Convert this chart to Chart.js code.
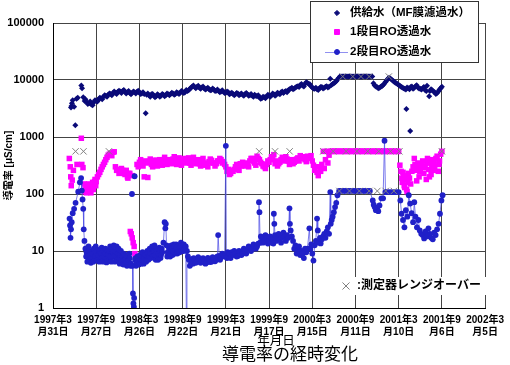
<!DOCTYPE html>
<html lang="ja">
<head>
<meta charset="utf-8">
<title>導電率の経時変化</title>
<script src="https://cdn.jsdelivr.net/npm/chart.js@4.4.1/dist/chart.umd.min.js"></script>
<style>
  html, body { margin: 0; padding: 0; background: #fff; }
</style>
</head>
<body>
<canvas id="chart" width="510" height="365"></canvas>
<script>
// x = days since 1997/3/31, y = conductivity [uS/cm]
const tickDays = [0, 180, 360, 540, 720, 900, 1080, 1260, 1440, 1620, 1800];
const tickLabels = [
    ['1997年3', '月31日'], ['1997年9', '月27日'], ['1998年3', '月26日'], ['1998年9', '月22日'],
    ['1999年3', '月21日'], ['1999年9', '月17日'], ['2000年3', '月15日'], ['2000年9', '月11日'],
    ['2001年3', '月10日'], ['2001年9', '月6日'], ['2002年3', '月5日']
];
const yTicks = [1, 10, 100, 1000, 10000, 100000];

const seriesNames = ['供給水（MF膜濾過水）', '1段目RO透過水', '2段目RO透過水'];

const feedWater = [
    [75,3300],[77,3500],[79,3900],[82,4400],[88,3400],[93,1600],[98,4700],[103,4900],[118,8000],[121,7200],
    [126,5000],[132,4300],[135,4600],[140,4100],[145,3800],[150,3900],[155,4200],[160,3700],[165,3600],[168,4000],
    [175,4400],[180,4300],[185,4200],[190,4600],[195,4900],[200,4800],[205,4600],[210,5100],[215,5400],[220,5300],
    [225,5100],[230,5500],[235,5800],[240,5700],[245,5400],[250,5900],[255,6300],[260,6000],[265,5700],[270,6200],
    [275,6500],[280,6300],[285,5900],[290,6400],[295,6700],[300,6200],[305,5800],[310,6100],[315,6400],[320,5900],
    [325,5600],[330,6000],[335,6300],[340,6100],[345,5800],[350,6200],[355,6500],[360,6000],[365,5700],[370,5800],
    [375,6100],[380,5700],[386,2600],[390,5500],[395,5800],[400,5400],[405,5100],[410,5600],[415,5700],[420,5300],
    [425,5000],[430,5200],[435,5600],[440,5400],[445,5100],[450,5300],[455,5700],[460,5500],[465,5200],[470,5400],
    [475,5800],[480,5600],[485,5400],[490,5700],[495,6000],[500,5800],[505,5500],[510,5700],[515,6100],[520,5900],
    [525,5700],[530,6000],[535,6400],[540,6200],[545,5900],[550,6100],[555,6700],[560,6400],[565,6600],[570,7000],
    [575,7300],[580,7700],[585,8000],[590,7500],[595,7200],[600,7600],[605,7900],[610,7300],[615,7000],[620,7400],
    [625,7700],[630,7100],[635,6800],[640,7000],[645,7300],[650,6900],[655,6600],[660,6700],[665,7100],[670,6800],
    [675,6400],[680,6500],[685,6800],[690,6400],[695,6100],[700,6300],[705,6600],[710,6200],[715,5900],[720,6000],
    [725,6300],[730,6100],[735,5600],[740,5800],[745,6000],[750,5700],[755,5400],[760,5600],[765,5900],[770,5800],
    [775,5400],[780,5600],[785,5800],[790,5500],[795,5300],[800,5700],[805,5900],[810,5600],[815,5300],[820,5400],
    [825,5700],[830,5300],[835,5100],[840,5500],[845,5300],[850,5200],[855,5400],[860,5000],[865,4700],[870,4800],
    [875,5100],[880,5000],[885,4800],[890,5100],[895,5500],[900,5300],[905,5100],[910,5400],[915,5800],[920,5600],
    [925,5300],[930,5500],[935,6000],[940,5800],[945,5600],[950,6100],[955,6300],[960,5900],[965,6200],[970,6400],
    [975,6100],[980,6600],[985,6900],[990,7000],[995,7300],[1000,6900],[1005,7100],[1010,7400],[1015,7600],[1020,7800],
    [1025,7500],[1030,8200],[1035,8500],[1040,8000],[1045,7700],[1050,8600],[1055,9100],[1060,8900],[1065,8600],[1070,8400],
    [1075,7800],[1080,7400],[1085,7100],[1090,7000],[1095,7300],[1100,6900],[1105,6700],[1110,7200],[1115,7500],[1120,7500],
    [1125,7100],[1130,7300],[1135,7600],[1140,7800],[1145,7400],[1150,7600],[1155,10500],[1160,8200],[1165,8500],[1170,8800],
    [1175,9100],[1180,9500],[1185,10200],[1190,10800],[1195,11500],[1200,11500],[1205,11500],[1210,11500],[1215,11500],
    [1220,11500],[1225,11500],[1230,11500],[1235,11500],[1240,11500],[1245,11500],[1250,11500],[1255,11500],[1260,11500],
    [1265,11500],[1270,11500],[1275,11500],[1280,11500],[1285,11500],[1290,11500],[1295,11500],[1300,11500],[1305,11500],
    [1310,11500],[1315,11500],[1320,11500],[1325,11500],[1330,11500],[1335,8800],[1340,8000],[1345,7700],[1350,7500],
    [1355,7200],[1360,7300],[1365,7600],[1370,7800],[1375,8200],[1380,8600],[1385,9200],[1390,9800],[1395,10500],[1400,11000],
    [1405,10600],[1410,10200],[1415,9800],[1420,9400],[1425,9000],[1430,8800],[1435,8500],[1440,8200],[1445,7900],[1450,7600],
    [1455,7400],[1460,7200],[1465,7000],[1470,6800],[1472,3100],[1475,7400],[1480,7200],[1485,6900],[1488,1280],[1490,7500],
    [1495,7700],[1500,7000],[1505,7300],[1510,7800],[1515,8100],[1520,7400],[1525,7100],[1530,7000],[1535,6800],[1540,7200],
    [1545,7500],[1550,6700],[1555,6400],[1558,7900],[1567,5200],[1570,6400],[1575,6900],[1580,6600],[1585,6300],[1590,6100],
    [1595,5700],[1600,5900],[1605,6300],[1610,6800],[1615,7200],[1620,7600]
];

const ro1Water = [
    [68,420],[72,300],[74,200],[76,140],[80,175],[85,260],[100,330],[118,950],[120,330],[125,290],
    [130,150],[133,110],[135,120],[137,140],[140,105],[143,115],[145,140],[148,150],[150,125],[153,130],
    [155,110],[158,105],[160,120],[163,140],[165,160],[168,120],[170,140],[173,165],[175,180],[178,140],
    [180,165],[185,200],[190,220],[195,240],[200,270],[205,300],[210,330],[215,360],[220,400],[225,440],
    [230,480],[235,500],[240,520],[245,470],[250,540],[255,550],[260,300],[265,260],[270,270],[275,230],
    [280,240],[285,280],[290,260],[295,230],[300,220],[305,260],[310,200],[312,190],[315,230],[320,230],
    [322,22],[326,20],[330,17],[330,210],[334,14],[338,12],[341,9],[344,8],[350,330],[355,300],
    [360,360],[365,400],[370,340],[375,310],[380,200],[385,380],[390,350],[395,195],[400,370],[405,410],
    [410,330],[415,300],[420,350],[425,390],[430,390],[435,310],[440,340],[445,400],[450,360],[455,320],
    [460,400],[465,440],[470,370],[475,330],[480,350],[485,400],[490,380],[495,340],[500,410],[505,450],
    [510,360],[515,330],[520,390],[525,430],[530,350],[535,320],[540,370],[545,410],[550,420],[555,350],
    [560,380],[565,430],[570,350],[575,320],[580,400],[585,440],[590,380],[595,340],[600,360],[605,400],
    [610,340],[615,310],[620,380],[625,420],[630,350],[635,320],[640,330],[645,300],[650,370],[655,410],
    [660,390],[665,350],[670,350],[675,310],[680,340],[685,380],[690,380],[695,420],[700,400],[705,350],
    [710,370],[715,330],[720,300],[725,250],[730,270],[735,220],[740,230],[745,260],[750,250],[755,270],
    [760,300],[765,330],[770,290],[775,260],[780,340],[785,310],[790,360],[795,330],[800,310],[805,350],
    [810,330],[815,300],[820,380],[825,420],[830,420],[835,380],[840,350],[845,320],[850,460],[855,420],
    [860,400],[865,360],[870,340],[875,310],[880,300],[885,280],[890,330],[895,380],[900,360],[905,400],
    [910,450],[915,420],[920,490],[925,340],[930,380],[935,310],[940,340],[945,360],[950,400],[955,440],
    [960,420],[965,380],[970,450],[975,410],[980,380],[985,330],[990,360],[995,400],[1000,340],[1005,360],
    [1010,380],[1015,410],[1020,430],[1025,380],[1030,470],[1035,430],[1040,420],[1045,450],[1050,400],[1055,370],
    [1060,460],[1065,420],[1070,430],[1075,470],[1080,380],[1085,320],[1090,260],[1095,300],[1100,240],[1105,210],
    [1110,300],[1115,250],[1120,330],[1126,560],[1130,280],[1135,400],[1140,560],[1145,350],[1150,480],[1155,560],
    [1160,560],[1165,560],[1170,560],[1175,560],[1180,560],[1185,560],[1190,560],[1195,560],[1200,560],[1205,560],
    [1210,560],[1215,560],[1220,560],[1225,560],[1230,560],[1235,560],[1240,560],[1245,560],[1250,560],[1255,560],
    [1260,560],[1265,560],[1270,560],[1275,560],[1280,560],[1285,560],[1290,560],[1295,560],[1300,560],[1305,560],
    [1310,560],[1315,560],[1320,560],[1325,560],[1330,560],[1335,560],[1340,560],[1345,560],[1350,560],[1355,560],
    [1360,560],[1365,560],[1370,560],[1375,560],[1380,560],[1385,560],[1390,560],[1395,560],[1400,560],[1405,560],
    [1410,560],[1415,560],[1420,560],[1425,560],[1430,560],[1435,560],[1440,560],[1445,320],[1450,250],[1453,190],
    [1455,160],[1458,240],[1460,200],[1463,140],[1465,130],[1468,210],[1470,180],[1473,120],[1475,110],[1478,160],
    [1480,230],[1485,190],[1490,150],[1495,250],[1500,300],[1505,420],[1508,330],[1510,260],[1515,170],[1518,290],
    [1520,350],[1525,200],[1528,250],[1530,280],[1535,330],[1540,380],[1545,230],[1548,290],[1550,310],[1555,180],
    [1558,350],[1560,420],[1565,270],[1568,200],[1570,350],[1575,220],[1578,300],[1580,400],[1585,260],[1588,340],
    [1590,300],[1595,420],[1600,460],[1605,250],[1608,330],[1610,380],[1615,500],[1620,560]
];

const ro2Water = [
    [69,37],[71,28],[73,17],[75,24],[78,32],[82,46],[88,55],[94,70],[105,110],[112,160],
    [117,190],[120,115],[123,80],[126,55],[128,24],[131,15],[135,11],[138,8],[140,9.5],[143,6.5],
    [145,8],[148,12],[150,10],[153,7],[155,8.5],[158,6.2],[160,7.5],[163,10],[165,9],[168,6.5],
    [170,11],[173,7.5],[175,8],[178,12],[180,9.5],[183,6.8],[185,7],[188,10.5],[190,8.5],[193,6.5],
    [195,10],[198,8],[200,9],[203,11.5],[205,7.5],[208,6.5],[210,10.5],[213,8.5],[215,8],[218,11],
    [220,9],[223,6.3],[225,7.2],[228,10],[230,8.8],[233,6.8],[235,10],[238,12],[240,8],[243,6.5],
    [245,11],[248,8],[250,9.5],[253,12.5],[255,8],[258,6.5],[260,10],[263,8],[265,12],[268,7],
    [270,9],[273,11],[275,7.5],[278,6],[280,8.5],[283,10],[285,6.5],[288,8],[290,7.8],[293,5.8],
    [295,9],[298,7],[300,7],[303,8.5],[305,6.2],[308,5.5],[310,8],[313,6.5],[315,7],[318,9],
    [320,7.5],[323,5.5],[325,6],[328,null],[329,100],[330,null],[331,5.5],[333,1.8],[335,1.2],[337,1.05],
    [338,1.5],[339,null],[340,205],[341,null],[342,7],[344,7.5],[346,5.5],[348,6],[350,6.5],[352,8],
    [355,7.5],[358,5.8],[360,6],[363,8.5],[365,7],[368,6],[370,8],[373,9.5],[375,6.8],[378,6],
    [380,7.5],[383,9],[385,8.5],[388,6.5],[390,7],[393,10],[395,9],[398,7],[400,8],[403,11],
    [405,10],[408,7.5],[410,9],[413,12],[415,11],[418,8],[420,10],[423,12.5],[425,8.5],[428,7],
    [430,9.5],[433,11],[435,8],[438,7],[440,9],[443,11.5],[445,10],[448,7.5],[450,8.5],[453,11],
    [455,9.5],[460,14],[465,32],[468,25],[470,30],[473,12.6],[476,8],[478,9.5],[481,12],[485,10.5],
    [488,8],[490,9],[493,12.5],[495,11],[498,8.5],[500,10],[503,13],[505,12],[508,9],[510,10.5],
    [513,13],[515,11.5],[518,9],[520,9.5],[523,12],[525,11],[528,9.5],[530,12],[533,14],[535,10],
    [538,12.5],[540,11.5],[543,10],[545,13],[548,11],[550,11],[553,12],[556,0.4],[558,10],[562,8],
    [566,7],[570,5.5],[575,6],[578,7.2],[583,6],[586,7.5],[590,7],[595,6.2],[600,6.5],[605,7.8],
    [610,7.2],[615,6.2],[620,6.8],[625,7.5],[630,7],[635,6],[640,6.3],[645,7.6],[650,7.2],[655,6.4],
    [660,6.5],[665,7.8],[670,7.5],[675,6.6],[680,7],[685,8],[688,19],[692,8.2],[696,7],[700,7.8],
    [705,9],[710,8.5],[715,8],[720,700],[722,8.5],[725,7.5],[728,9.5],[730,8],[735,9],[740,7.5],
    [745,9.5],[750,8.5],[755,10],[760,9],[765,8],[770,8.2],[775,10],[780,9.5],[785,8.5],[790,9],
    [795,11],[800,10],[805,9],[810,10.5],[815,12],[820,11.5],[825,10],[830,11],[835,13],[840,12.5],
    [845,11],[850,12],[855,13.5],[858,72],[860,48],[863,14],[866,18],[870,17],[875,14],[880,15],
    [885,19],[890,16.5],[895,13.5],[900,15],[905,18],[910,14],[915,16],[918,13.5],[920,45],[922,30],
    [925,19],[930,15],[935,17],[940,20],[945,16],[950,14],[955,17.5],[960,21],[965,18],[970,15],
    [975,19],[980,17],[985,56],[987,30],[990,23],[995,18],[1000,15],[1005,11],[1010,12.6],[1015,9],
    [1020,10],[1025,12],[1030,8.5],[1035,10],[1040,9],[1045,7.5],[1050,11],[1055,9.5],[1060,11],[1068,25],
    [1072,11],[1076,13],[1080,9],[1085,6.8],[1090,12.6],[1095,15],[1100,37],[1103,23],[1108,14],[1112,17],
    [1115,13.6],[1120,16],[1125,18],[1130,20],[1135,17],[1140,22],[1145,26],[1150,20],[1155,108],[1157,30],
    [1161,35],[1165,40],[1170,48],[1175,59],[1180,70],[1185,95],[1192,113],[1200,113],[1210,113],[1220,113],
    [1230,113],[1240,113],[1250,113],[1260,113],[1270,113],[1280,113],[1290,113],[1300,113],[1310,113],[1320,113],
    [1332,77],[1336,65],[1340,59],[1345,52],[1350,56],[1355,50],[1360,63],[1368,84],[1375,84],[1381,860],
    [1385,108],[1390,108],[1400,108],[1410,108],[1420,108],[1430,108],[1440,108],[1447,77],[1452,45],[1458,35],
    [1464,26],[1470,52],[1476,40],[1482,95],[1488,68],[1494,46],[1500,32],[1505,72],[1510,40],[1516,26],
    [1522,35],[1528,23],[1534,20],[1540,19],[1546,16.6],[1552,22],[1558,18],[1564,25],[1570,20],[1576,17],
    [1582,16],[1588,21],[1594,19],[1600,24],[1606,30],[1612,45],[1618,77],[1623,95]
];

// measuring range exceeded (×)
const rangeOver = [
    [94,560],[127,560],[233,560],[859,560],[925,560],[986,560],[1126,560],[1167,560],[1221,560],[1266,560],
    [1311,560],[1357,560],[1406,560],[1443,560],[1620,560],
    [1207,11500],[1249,11500],[1283,11500],[1317,11500],[1399,11500],
    [1193,113],[1235,113],[1276,113],[1317,113],[1351,113],[1386,113],[1420,113]
];

const FONT = "'Liberation Sans', 'Noto Sans CJK JP', sans-serif";
const FEED_COLOR = '#0a0a78';
const RO1_COLOR = '#ff00ff';
const RO2_COLOR = '#2020c8';
const RO2_LINE = 'rgba(80, 80, 230, 0.75)';
const GRID = '#444';

// legend box, annotation and the bottom titles
const overlay = {
    id: 'overlay',
    afterDraw(chart) {
        const ctx = chart.ctx;
        const ds = chart.data.datasets;
        ctx.save();

        // annotation
        ctx.fillStyle = '#fff';
        ctx.fillRect(338, 277, 150, 18);
        ctx.strokeStyle = '#808080';
        ctx.fillStyle = '#808080';
        ctx.lineWidth = 1;
        Chart.helpers.drawPoint(ctx, { pointStyle: 'crossRot', radius: 5, borderWidth: 1 }, 346, 286);
        ctx.fillStyle = '#000';
        ctx.font = 'bold 12px ' + FONT;
        ctx.textBaseline = 'middle';
        ctx.textAlign = 'left';
        ctx.fillText(':測定器レンジオーバー', 357, 286);

        // legend
        ctx.fillStyle = '#fff';
        ctx.fillRect(310, 1, 168, 61);
        ctx.strokeStyle = '#333';
        ctx.strokeRect(310.5, 1.5, 168, 61);
        const rows = [13, 32, 52];
        ctx.font = 'bold 11.5px ' + FONT;
        for (let i = 0; i < 3; i++) {
            const y = rows[i];
            const d = ds[i];
            if (i === 2) {
                ctx.strokeStyle = '#9090f0';
                ctx.beginPath();
                ctx.moveTo(325, y + 0.5);
                ctx.lineTo(348, y + 0.5);
                ctx.stroke();
            }
            ctx.fillStyle = d.pointBackgroundColor;
            ctx.strokeStyle = d.pointBorderColor;
            Chart.helpers.drawPoint(ctx, { pointStyle: d.pointStyle, radius: d.pointRadius - 0.4, borderWidth: 1 }, 337, y);
            ctx.fillStyle = '#000';
            ctx.fillText(d.label, 350, y);
        }

        // axis title and chart title
        ctx.textAlign = 'center';
        ctx.font = '12.5px ' + FONT;
        ctx.fillText('年月日', 276, 342);
        ctx.font = '17px ' + FONT;
        ctx.fillText('導電率の経時変化', 290, 355);
        ctx.restore();
    }
};

new Chart(document.getElementById('chart'), {
    type: 'scatter',
    data: {
        datasets: [
            {
                label: seriesNames[0], data: feedWater, order: 4,
                pointStyle: 'rectRot', pointRadius: 3, borderWidth: 0,
                pointBackgroundColor: FEED_COLOR, pointBorderColor: FEED_COLOR, backgroundColor: FEED_COLOR
            },
            {
                label: seriesNames[1], data: ro1Water, order: 3,
                pointStyle: 'rect', pointRadius: 3.9, borderWidth: 0,
                pointBackgroundColor: RO1_COLOR, pointBorderColor: RO1_COLOR, backgroundColor: RO1_COLOR
            },
            {
                label: seriesNames[2], data: ro2Water, order: 2, showLine: true,
                borderColor: RO2_LINE, borderWidth: 1,
                pointStyle: 'circle', pointRadius: 2.9, pointBorderWidth: 0,
                pointBackgroundColor: RO2_COLOR, pointBorderColor: RO2_COLOR, backgroundColor: RO2_COLOR
            },
            {
                label: '測定器レンジオーバー', data: rangeOver, order: 1,
                pointStyle: 'crossRot', pointRadius: 4.5, pointBorderWidth: 1,
                pointBorderColor: '#808080', borderColor: '#808080'
            }
        ]
    },
    options: {
        responsive: false,
        animation: false,
        layout: { padding: { top: 23, right: 19, left: 0, bottom: 0 } },
        plugins: {
            legend: { display: false },
            tooltip: { enabled: false }
        },
        scales: {
            x: {
                type: 'linear',
                min: 0,
                max: 1800,
                afterBuildTicks: s => { s.ticks = tickDays.map(v => ({ value: v })); },
                afterFit: s => { s.height = 57; },
                grid: { color: GRID, lineWidth: 1, drawTicks: false },
                border: { color: '#000', width: 1 },
                ticks: {
                    color: '#000',
                    font: { family: FONT, size: 10, weight: 'bold' },
                    padding: 6,
                    maxRotation: 0,
                    autoSkip: false,
                    callback: (v, i) => tickLabels[i]
                }
            },
            y: {
                type: 'logarithmic',
                min: 1,
                max: 100000,
                afterBuildTicks: s => { s.ticks = yTicks.map(v => ({ value: v })); },
                afterFit: s => { s.width = 53; },
                grid: { color: GRID, lineWidth: 1, drawTicks: false },
                border: { color: '#000', width: 1 },
                ticks: {
                    color: '#000',
                    font: { family: FONT, size: 11, weight: 'bold' },
                    padding: 9,
                    callback: v => String(v)
                },
                title: {
                    display: true,
                    text: '導電率 [μS/cm]',
                    color: '#000',
                    font: { family: FONT, size: 10, weight: 'bold' },
                    padding: { top: 3, bottom: 0 }
                }
            }
        }
    },
    plugins: [overlay]
});
</script>
</body>
</html>
